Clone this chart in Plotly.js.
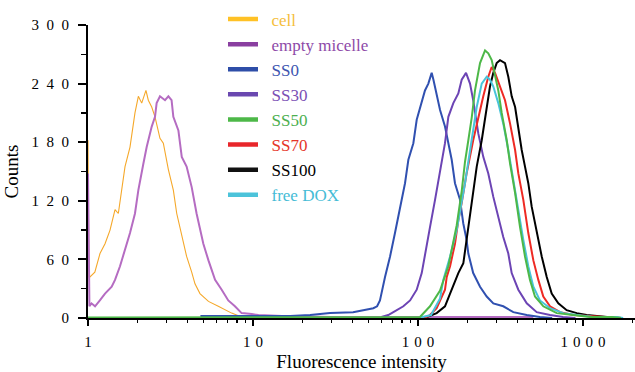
<!DOCTYPE html>
<html>
<head>
<meta charset="utf-8">
<script src="https://cdn.plot.ly/plotly-3.0.1.min.js"></script>
<style>html,body{margin:0;padding:0;background:#fff;}#chart{width:635px;height:372px;}</style>
</head>
<body>
<div id="chart"></div>
<script>
// ---- data (x = fluorescence intensity, y = counts) ----
const cellX = [1, 1.012, 1.028, 1.10, 1.182, 1.268, 1.36, 1.458, 1.527, 1.600, 1.676, 1.797, 1.926, 2.019, 2.116, 2.245, 2.320, 2.433, 2.547, 2.730, 2.861, 3.07, 3.29, 3.45, 3.70, 3.96, 4.25, 4.45, 4.77, 5.37, 6.16, 7.42, 8.53, 10.5];
const cellY = [182, 42, 42, 47, 66, 76, 90, 111, 107, 131, 155, 175, 210, 227, 220, 233, 223, 216, 206, 184, 179, 152, 131, 107, 83, 63, 47, 35, 25, 17, 12, 5, 1, 0];

const micelleX = [1, 1.012, 1.02, 1.05, 1.103, 1.18, 1.268, 1.392, 1.458, 1.563, 1.676, 1.797, 1.926, 2.019, 2.165, 2.268, 2.433, 2.547, 2.606, 2.730, 2.929, 3.07, 3.21, 3.29, 3.53, 3.70, 3.96, 4.25, 4.55, 4.77, 5.00, 5.37, 5.89, 6.46, 7.08, 7.77, 8.53, 9.83, 10.8, 15, 30, 100, 500];
const micelleY = [148, 80, 12, 15, 12, 18, 25, 32, 39, 53, 70, 87, 107, 131, 158, 175, 196, 206, 220, 227, 223, 227, 223, 206, 192, 165, 155, 134, 107, 90, 76, 59, 39, 29, 18, 12, 5, 4, 3, 2, 1, 1, 1];

const ss0X = [4.8, 9.6, 16.8, 22.2, 29.3, 40.4, 51.2, 53.6, 56.5, 58.8, 63.1, 67.7, 72.5, 77.8, 83.4, 87.4, 93.7, 98.2, 105.2, 110.2, 115.5, 121, 124, 129.7, 136, 145.7, 152.7, 160, 167.5, 179.7, 188, 197, 201.8, 216, 237.6, 260.8, 286, 328.6, 378, 456, 548, 650];
const ss0Y = [2, 2, 2, 3, 5, 6, 9, 10, 12, 18, 42, 63, 87, 114, 138, 162, 179, 203, 220, 233, 240, 251, 244, 227, 213, 196, 179, 162, 138, 121, 97, 80, 66, 46, 32, 22, 15, 12, 6, 3, 1, 0];

const ss30X = [60, 66, 70.9, 81.5, 89.5, 98.2, 105.3, 110.2, 118.2, 126.8, 136, 145.7, 152.7, 163.7, 175.5, 184, 195.4, 206.6, 216, 231.9, 248.6, 266.6, 286, 306.6, 328.6, 352.5, 369.6, 405.4, 456, 524, 631, 756, 900];
const ss30Y = [1, 3, 6, 12, 18, 29, 46, 63, 93, 121, 152, 179, 206, 220, 230, 244, 251, 240, 223, 189, 165, 148, 124, 104, 83, 66, 46, 29, 15, 6, 3, 1, 0];

const ss50X = [1, 100, 102.8, 118.2, 136, 152.7, 163.7, 171.6, 184, 192.7, 201.8, 211.5, 221.5, 237.6, 254.8, 266.6, 279.6, 292.9, 306.6, 321.5, 344.9, 361.3, 387.6, 415.2, 445, 477, 511.6, 574.5, 693, 873.5, 1102, 1500, 1700];
const ss50Y = [0.6, 0.6, 1, 12, 28, 53, 78, 95, 130, 160, 182, 205, 233, 261, 274, 271, 264, 247, 233, 210, 182, 158, 128, 93, 63, 39, 22, 12, 5, 3, 1, 1, 0];

const ss70X = [110, 118.2, 129.7, 145.7, 149.3, 156.4, 167.5, 175.5, 184, 197, 216, 231.9, 248.6, 266.6, 279.6, 292.9, 314, 336.7, 361.3, 387.6, 405.4, 434.7, 466, 500, 536, 574.5, 631, 726, 873.5, 1102, 1500, 1700];
const ss70Y = [0, 3, 10, 29, 42, 53, 76, 100, 118, 148, 182, 206, 227, 247, 257, 251, 237, 223, 199, 172, 148, 121, 87, 59, 39, 22, 12, 6, 3, 2, 1, 0];

const ss100X = [110, 113, 129.7, 136, 145.7, 156.4, 175.5, 188.2, 197, 211.5, 226.9, 243.3, 260.8, 273, 286, 299.7, 314, 336.7, 352.5, 369.6, 387.6, 405.4, 425, 445, 466, 488.6, 524, 562, 602.6, 646, 708.5, 796, 916, 1052, 1400, 1700];
const ss100Y = [0, 1, 5, 8, 12, 25, 46, 56, 80, 121, 155, 182, 216, 237, 251, 261, 264, 261, 247, 227, 216, 192, 172, 155, 138, 114, 87, 63, 42, 25, 15, 8, 5, 3, 1, 0];

const doxX = [100, 120, 136, 142.3, 156.4, 171.6, 192.7, 211.5, 226.9, 243.3, 260.8, 273, 286, 306.6, 328.6, 352.5, 378, 405.4, 434.7, 466, 500, 548, 631, 760, 959, 1150, 1600, 1750];
const doxY = [0, 3, 20, 39, 63, 90, 138, 182, 216, 240, 247, 244, 237, 220, 199, 172, 141, 111, 80, 53, 32, 18, 10, 5, 3, 1, 1, 0];

const seriesNames = ['cell', 'empty micelle', 'SS0', 'SS30', 'SS50', 'SS70', 'SS100', 'free DOX'];
const xTickValues = [1, 10, 100, 1000];
const yTickValues = [0, 60, 120, 180, 240, 300];
const yMinorValues = [30, 90, 150, 210, 270];

// ---- styles ----
const FONT = 'Liberation Serif, Times New Roman, DejaVu Serif, serif';
const plotColors = {
  'cell': '#F5A82A', 'empty micelle': '#B56CC2', 'SS0': '#3050B0', 'SS30': '#6C44B4',
  'SS50': '#4DB848', 'SS70': '#EE2A24', 'SS100': '#000000', 'free DOX': '#48C4DA'
};
const legendLineColors = {
  'cell': '#FFC125', 'empty micelle': '#8A3FA0', 'SS0': '#2E4EA8', 'SS30': '#6A48B0',
  'SS50': '#4DB848', 'SS70': '#E8262B', 'SS100': '#111111', 'free DOX': '#4CC3DA'
};
const legendTextColors = {
  'cell': '#F5BE3C', 'empty micelle': '#8E4AA8', 'SS0': '#3D55B0', 'SS30': '#7B4FB5',
  'SS50': '#4CAF50', 'SS70': '#E53529', 'SS100': '#000000', 'free DOX': '#45BCD6'
};
const widths = {'cell': 1.1};

const dataMap = {
  'cell': [cellX, cellY], 'empty micelle': [micelleX, micelleY], 'SS0': [ss0X, ss0Y],
  'SS30': [ss30X, ss30Y], 'SS50': [ss50X, ss50Y], 'SS70': [ss70X, ss70Y],
  'SS100': [ss100X, ss100Y], 'free DOX': [doxX, doxY]
};
const drawOrder = ['cell', 'empty micelle', 'SS0', 'SS30', 'SS100', 'SS70', 'free DOX', 'SS50'];

const traces = [];
// invisible trace that makes the minor-tick overlay axes exist
traces.push({type: 'scatter', mode: 'lines', x: [null], y: [null], xaxis: 'x2', yaxis: 'y2', showlegend: false, hoverinfo: 'skip'});
drawOrder.forEach(n => {
  traces.push({
    type: 'scatter', mode: 'lines', x: dataMap[n][0], y: dataMap[n][1],
    line: {color: plotColors[n], width: widths[n] || 2}, showlegend: false, hoverinfo: 'skip'
  });
});
// legend entries (thicker sample lines, coloured labels)
seriesNames.forEach(n => {
  traces.push({
    type: 'scatter', mode: 'lines', x: [null], y: [null],
    name: '\u2002<span style="color:' + legendTextColors[n] + '">' + n + '</span>',
    line: {color: legendLineColors[n], width: 4.5}, showlegend: true
  });
});

const minorX = [];
xTickValues.forEach(d => { for (let k = 2; k <= 9; k++) { if (d * k < 2100) minorX.push(d * k); } });

const spaced = (s, sep) => s.split('').join(sep);

const layout = {
  width: 635, height: 372,
  margin: {l: 88, r: 0, t: 25, b: 54, autoexpand: false},
  paper_bgcolor: '#ffffff', plot_bgcolor: 'rgba(0,0,0,0)',
  font: {family: FONT, color: '#000'},
  showlegend: true,
  legend: {
    x: 0.2468, xanchor: 'left', y: 0.996, yref: 'container', yanchor: 'top',
    bgcolor: 'rgba(0,0,0,0)', borderwidth: 0, maxheight: 360,
    font: {family: FONT, size: 17},
    itemclick: false, itemdoubleclick: false
  },
  xaxis: {
    type: 'log', range: [0, 3.315], autorange: false,
    tickmode: 'array', tickvals: xTickValues,
    ticktext: xTickValues.map(v => spaced(String(v), '\u2004')),
    ticks: 'outside', ticklen: 6, tickwidth: 2, tickcolor: '#000',
    showline: true, linecolor: '#000', linewidth: 2, showgrid: false, zeroline: false,
    layer: 'below traces',
    tickfont: {family: FONT, size: 15, color: '#000'},
    ticklabelstandoff: 3,
    title: {text: 'Fluorescence intensity', font: {family: FONT, size: 19, color: '#000'}, standoff: 6},
    automargin: false
  },
  xaxis2: {
    type: 'log', range: [0, 3.315], autorange: false, overlaying: 'x', anchor: 'y', side: 'bottom',
    tickmode: 'array', tickvals: minorX, ticktext: minorX.map(() => ''),
    ticks: 'outside', ticklen: 4, tickwidth: 1.5, tickcolor: '#000',
    showline: false, showgrid: false, zeroline: false, automargin: false
  },
  yaxis: {
    range: [0, 300], autorange: false,
    tickmode: 'array', tickvals: yTickValues,
    ticktext: yTickValues.map(v => spaced(String(v), '\u2002')),
    ticks: 'outside', ticklen: 8, tickwidth: 2, tickcolor: '#000',
    showline: true, linecolor: '#000', linewidth: 2, showgrid: false, zeroline: false,
    layer: 'below traces',
    tickfont: {family: FONT, size: 15, color: '#000'},
    ticklabelstandoff: 6,
    title: {text: 'Counts', font: {family: FONT, size: 19, color: '#000'}, standoff: 8},
    automargin: false
  },
  yaxis2: {
    range: [0, 300], autorange: false, overlaying: 'y', anchor: 'x', side: 'left',
    tickmode: 'array', tickvals: yMinorValues, ticktext: yMinorValues.map(() => ''),
    ticks: 'outside', ticklen: 6, tickwidth: 1.5, tickcolor: '#000',
    showline: false, showgrid: false, zeroline: false, automargin: false
  }
};

Plotly.newPlot('chart', traces, layout, {displayModeBar: false, staticPlot: true});
</script>
</body>
</html>
